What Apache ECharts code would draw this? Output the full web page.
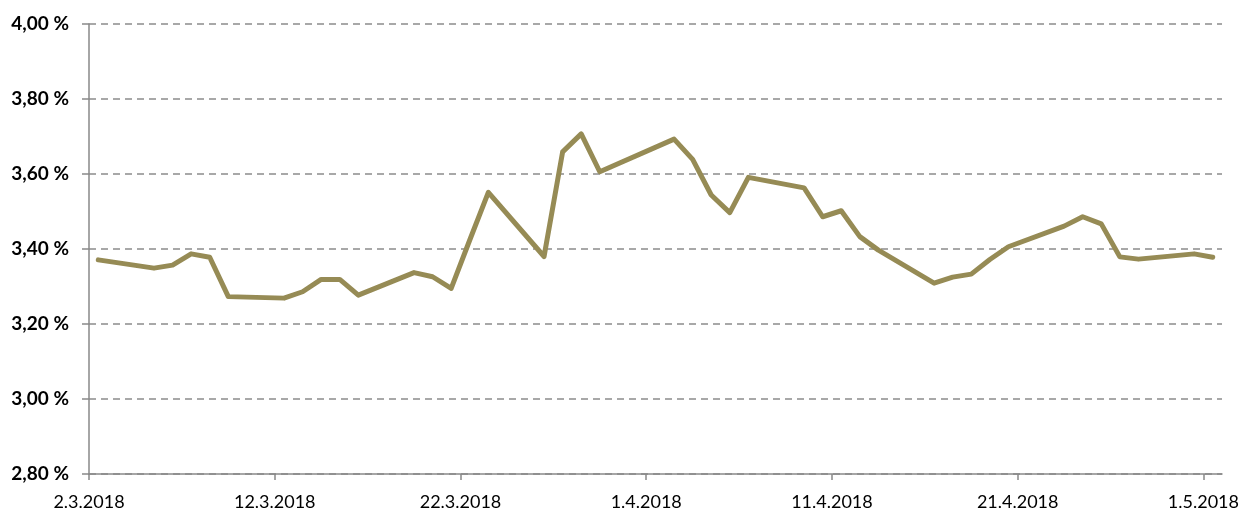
<!DOCTYPE html>
<html lang="fi">
<head>
    <meta charset="UTF-8">
    <title>Korko</title>
    <script src="https://cdn.jsdelivr.net/npm/echarts@6/dist/echarts.min.js"></script>
    <style>
        html, body { margin: 0; padding: 0; background: #fff; }
        #chart { width: 1252px; height: 511px; }
    </style>
</head>
<body>
<div id="chart"></div>
<script type="text/javascript">
    // päivämäärät (pankkipäivät) ja arvot, %
    var dates = [
        '2018-03-02', '2018-03-05', '2018-03-06', '2018-03-07', '2018-03-08', '2018-03-09',
        '2018-03-12', '2018-03-13', '2018-03-14', '2018-03-15', '2018-03-16',
        '2018-03-19', '2018-03-20', '2018-03-21', '2018-03-22', '2018-03-23',
        '2018-03-26', '2018-03-27', '2018-03-28', '2018-03-29',
        '2018-04-02', '2018-04-03', '2018-04-04', '2018-04-05', '2018-04-06',
        '2018-04-09', '2018-04-10', '2018-04-11', '2018-04-12', '2018-04-13',
        '2018-04-16', '2018-04-17', '2018-04-18', '2018-04-19', '2018-04-20',
        '2018-04-23', '2018-04-24', '2018-04-25', '2018-04-26', '2018-04-27',
        '2018-04-30', '2018-05-01'
    ];
    var values = [
        3.371, 3.349, 3.357, 3.387, 3.378, 3.273,
        3.269, 3.286, 3.319, 3.319, 3.277,
        3.337, 3.326, 3.295, 3.424, 3.551,
        3.380, 3.659, 3.707, 3.606,
        3.693, 3.639, 3.544, 3.497, 3.591,
        3.563, 3.486, 3.502, 3.433, 3.397,
        3.309, 3.325, 3.333, 3.372, 3.406,
        3.461, 3.486, 3.467, 3.379, 3.373,
        3.387, 3.378
    ];
    var startDate = '2018-03-02';
    var dayCount = 61;
    var xTicks = [0, 10, 20, 30, 40, 50, 60];
    var yTicks = [2.8, 3.0, 3.2, 3.4, 3.6, 3.8, 4.0];

    function toUTC(s) {
        var p = s.split('-');
        return Date.UTC(+p[0], +p[1] - 1, +p[2]);
    }
    var start = toUTC(startDate);
    var DAY = 86400000;

    // pisteet päivän keskelle
    var points = dates.map(function (d, i) {
        return [(toUTC(d) - start) / DAY + 0.5, values[i]];
    });

    function dayLabel(v) {
        var d = new Date(start + v * DAY);
        return d.getUTCDate() + '.' + (d.getUTCMonth() + 1) + '.' + d.getUTCFullYear();
    }

    var chart = echarts.init(document.getElementById('chart'));
    var option = {
        animation: false,
        grid: { left: 89, right: 30, top: 24, bottom: 37 },
        xAxis: {
            type: 'value',
            min: 0,
            max: dayCount,
            interval: 10,
            splitLine: { show: false },
            axisLine: { show: true, lineStyle: { color: '#898989', width: 1.5 } },
            axisTick: { show: true, length: 6, customValues: xTicks, lineStyle: { color: '#898989', width: 1.5 } },
            axisLabel: {
                customValues: xTicks,
                formatter: dayLabel,
                color: '#000',
                fontFamily: 'Lato',
                fontSize: 18,
                margin: 19
            }
        },
        yAxis: {
            type: 'value',
            min: yTicks[0],
            max: yTicks[yTicks.length - 1],
            interval: 0.2,
            axisLine: { show: true, lineStyle: { color: '#898989', width: 1.5 } },
            axisTick: { show: true, length: 7, lineStyle: { color: '#898989', width: 1.5 } },
            splitLine: { show: true, lineStyle: { color: '#8c8c8c', width: 1.5, type: [7, 5] } },
            axisLabel: {
                formatter: function (v) { return v.toFixed(2).replace('.', ',') + ' %'; },
                color: '#000',
                fontFamily: 'Lato',
                fontWeight: 'bold',
                fontSize: 19,
                margin: 20
            }
        },
        series: [{
            type: 'line',
            data: points,
            showSymbol: false,
            lineStyle: { color: '#968b55', width: 5, join: 'round', cap: 'round' },
            itemStyle: { color: '#968b55' }
        }]
    };
    chart.setOption(option);
</script>
</body>
</html>
